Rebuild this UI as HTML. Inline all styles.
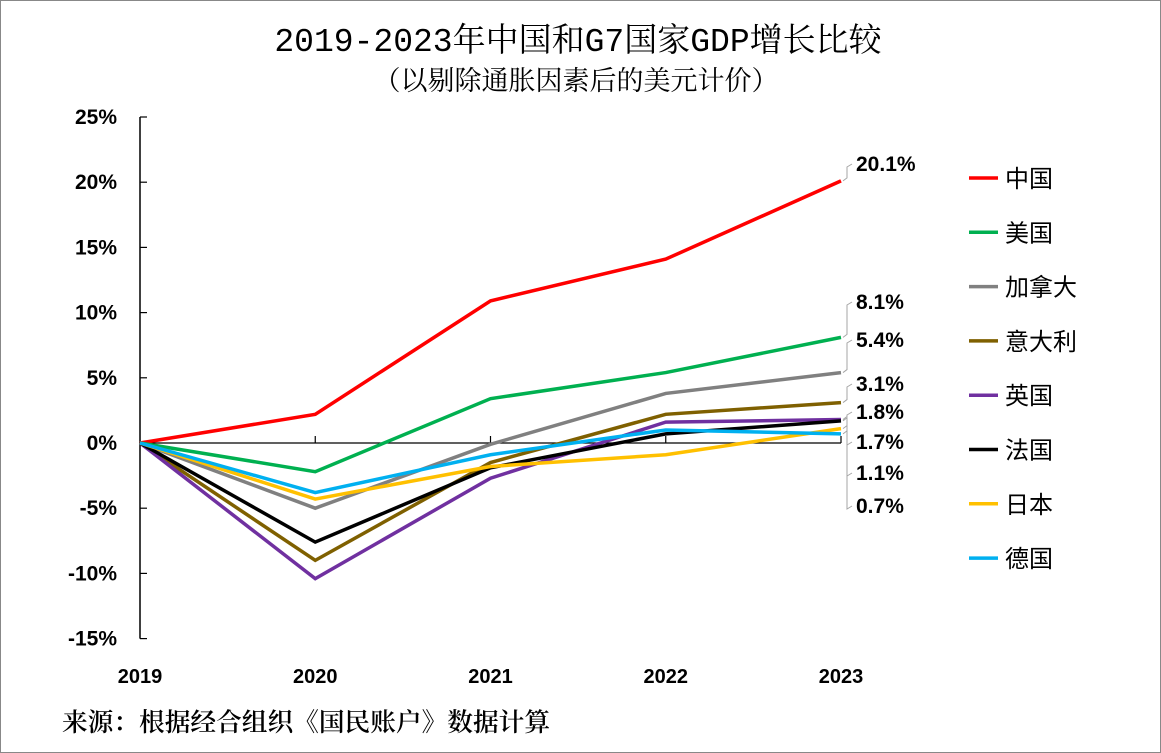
<!DOCTYPE html>
<html><head><meta charset="utf-8">
<style>
body{margin:0;background:#fff;}
svg{display:block;}
text{font-family:"Liberation Sans","Noto Sans CJK SC",sans-serif;}
</style></head>
<body>
<svg id="chart" width="1161" height="753" xmlns="http://www.w3.org/2000/svg">
<rect x="0.5" y="0.5" width="1160" height="752" fill="#fff" stroke="#888"/>
<text x="578" y="51" text-anchor="middle" font-size="33" style='font-family:"Liberation Mono","Noto Serif CJK SC",serif'>2019-2023年中国和G7国家GDP增长比较</text>
<text x="576" y="90" text-anchor="middle" font-size="27" style='font-family:"Liberation Serif","Noto Serif CJK SC",serif'>（以剔除通胀因素后的美元计价）</text>
<text x="62" y="731" font-size="25.7" style='font-family:"Liberation Serif","Noto Serif CJK SC",serif;font-weight:600'>来源：根据经合组织《国民账户》数据计算</text>
<g id="plot"></g>
</svg>
<script>
const years=["2019","2020","2021","2022","2023"];
const yTicks=[25,20,15,10,5,0,-5,-10,-15];
const names=["中国","美国","加拿大","意大利","英国","法国","日本","德国"];
const colors=["#ff0000","#00b050","#808080","#7f6000","#7030a0","#000000","#ffc000","#00b0f0"];
const china=[0,2.2,10.9,14.1,20.1];
const usa=[0,-2.2,3.4,5.4,8.1];
const canada=[0,-5.0,-0.1,3.8,5.4];
const italy=[0,-9.0,-1.5,2.2,3.1];
const uk=[0,-10.4,-2.7,1.6,1.8];
const france=[0,-7.6,-1.9,0.7,1.7];
const japan=[0,-4.3,-1.8,-0.9,1.1];
const germany=[0,-3.8,-0.9,1.0,0.7];
const series=[china,usa,canada,italy,uk,france,japan,germany];
const endLabels=["20.1%","8.1%","5.4%","3.1%","1.8%","1.7%","1.1%","0.7%"];
const labelY=[164,302,340,384,412,442,473,506];

const NS="http://www.w3.org/2000/svg";
const g=document.getElementById('plot');
const x=i=>140+i*(841-140)/(years.length-1);
const y=v=>443-v*(443-117)/25;
function mk(tag,attrs,parent){const e=document.createElementNS(NS,tag);for(const k in attrs)e.setAttribute(k,attrs[k]);(parent||g).appendChild(e);return e;}

let ya=mk('line',{x1:140,y1:117,x2:140,y2:y(-15),stroke:'#000','stroke-width':1.5});


yTicks.forEach(t=>{
  let tk=mk('line',{x1:140,x2:147,y1:y(t),y2:y(t),stroke:'#000','stroke-width':1.2});
  
  
  let tl=mk('text',{x:117,y:y(t)+7,'text-anchor':'end','font-size':21,'font-weight':'bold'});
  tl.textContent=t+'%';
  
  
});
let xa=mk('line',{x1:140,y1:y(0),x2:841,y2:y(0),stroke:'#000','stroke-width':1.2});


years.forEach((yr,i)=>{
  if(i>0){let tk=mk('line',{x1:x(i),x2:x(i),y1:y(0),y2:y(0)-7,stroke:'#000','stroke-width':1.2});
  
  }
  let tl=mk('text',{x:x(i),y:683,'text-anchor':'middle','font-size':20,'font-weight':'bold'});
  tl.textContent=yr;
  
  
});
series.forEach((s,k)=>{
  let p=mk('polyline',{points:s.map((v,i)=>x(i)+','+y(v)).join(' '),fill:'none',stroke:colors[k],'stroke-width':3.5,'stroke-linejoin':'miter'});
  
  
});
endLabels.forEach((lab,k)=>{
  const ly=labelY[k];
  const ex=843, vy=y(series[k][4]);
  let l=mk('polyline',{points:`${ex},${vy} 847,${vy-3} 847,${ly+3} 852,${ly}`,fill:'none',stroke:'#a6a6a6','stroke-width':1});
  
  
  let t=mk('text',{x:856,y:ly+7,'font-size':21,'font-weight':'bold'});
  t.textContent=lab;
  
  
});
names.forEach((n,k)=>{
  const ly=178+k*54.3;
  let l=mk('line',{x1:969,x2:998,y1:ly,y2:ly,stroke:colors[k],'stroke-width':3.5});
  
  
  let t=mk('text',{x:1005,y:ly+9,'font-size':24});
  t.textContent=n;
  
  
});
</script>
</body></html>
